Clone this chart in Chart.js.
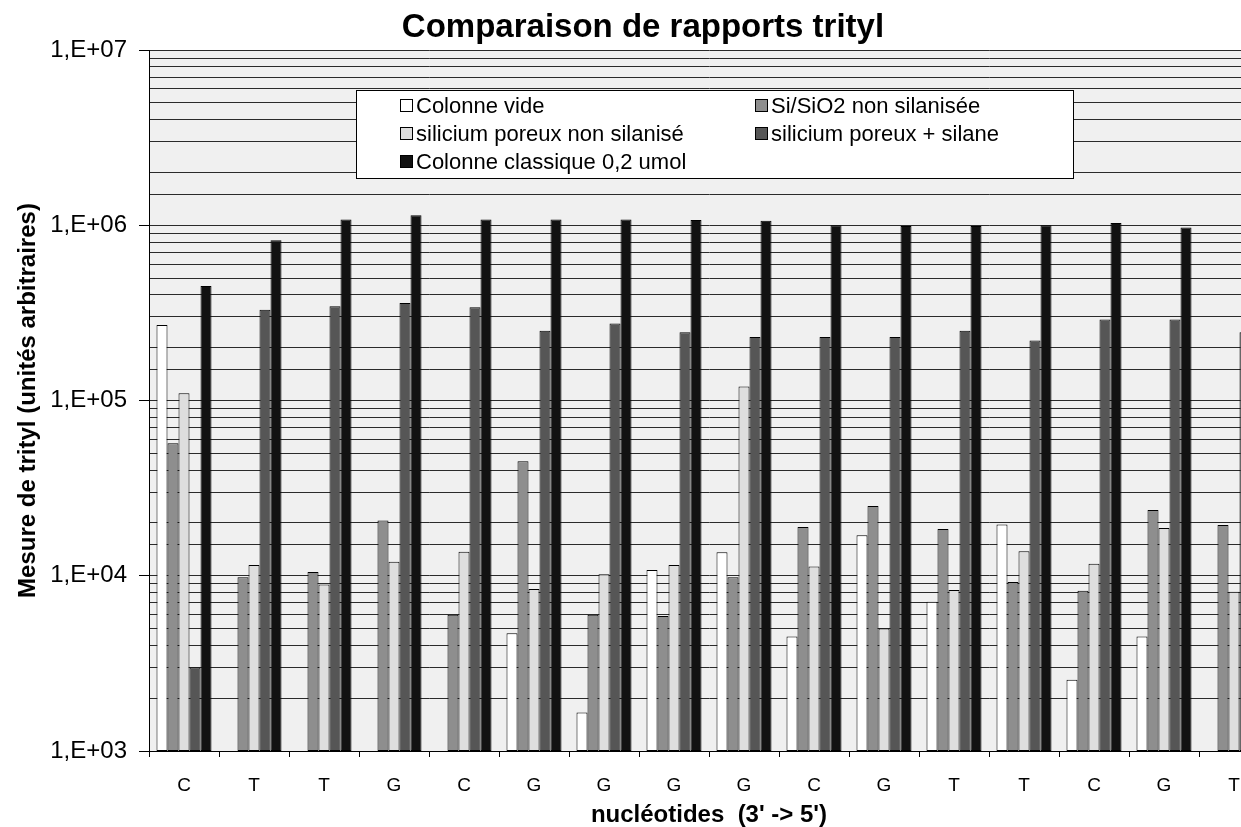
<!DOCTYPE html>
<html>
<head>
<meta charset="utf-8">
<script src="https://cdn.jsdelivr.net/npm/chart.js@4.4.1/dist/chart.umd.min.js"></script>
<style>
html, body { margin: 0; padding: 0; overflow: hidden; background: #ffffff; }
#wrap { width: 1286px; height: 830px; }
</style>
</head>
<body>
<div id="wrap"><canvas id="c" width="1286" height="830"></canvas></div>
<script>
// ---- data ----
const categories = ['C','T','T','G','C','G','G','G','G','C','G','T','T','C','G','T'];
const seriesLabels = [
  'Colonne vide',
  'Si/SiO2 non silanisée',
  'silicium poreux non silanisé',
  'silicium poreux + silane',
  'Colonne classique 0,2 umol'
];
const colonneVide    = [2.7e5, null, null, null, null, 4.7e3, 1.66e3, 1.08e4, 1.36e4, 4.5e3, 1.7e4, 7.1e3, 1.96e4, 2.55e3, 4.5e3, null];
const siSiO2         = [5.7e4, 9.8e3, 1.05e4, 2.07e4, 6.0e3, 4.5e4, 6.0e3, 5.9e3, 9.8e3, 1.9e4, 2.5e4, 1.85e4, 9.2e3, 8.2e3, 2.37e4, 1.95e4];
const poreuxNonSil   = [1.1e5, 1.15e4, 8.9e3, 1.2e4, 1.37e4, 8.4e3, 1.02e4, 1.15e4, 1.2e5, 1.13e4, 5.0e3, 8.3e3, 1.38e4, 1.17e4, 1.87e4, 8.1e3];
const poreuxSilane   = [3.0e3, 3.3e5, 3.45e5, 3.6e5, 3.4e5, 2.5e5, 2.75e5, 2.45e5, 2.3e5, 2.3e5, 2.3e5, 2.5e5, 2.2e5, 2.9e5, 2.9e5, 2.45e5];
const colonneClassique = [4.5e5, 8.2e5, 1.08e6, 1.14e6, 1.08e6, 1.08e6, 1.08e6, 1.07e6, 1.06e6, 1.0e6, 9.9e5, 9.9e5, 1.0e6, 1.03e6, 9.7e5, null];
const majorTickValues = [1e3, 1e4, 1e5, 1e6, 1e7];
const majorTickLabels = ['1,E+03', '1,E+04', '1,E+05', '1,E+06', '1,E+07'];

// ---- styles ----
const FONT = "'Liberation Sans', Arial, Helvetica, sans-serif";
const seriesColors = ['#ffffff', '#8e8e8e', '#dedede', '#565656', '#111111'];
const seriesData = [colonneVide, siSiO2, poreuxNonSil, poreuxSilane, colonneClassique];

function majorLabel(v) {
  for (let i = 0; i < majorTickValues.length; i++) {
    if (Math.abs(v - majorTickValues[i]) < majorTickValues[i] * 1e-6) return majorTickLabels[i];
  }
  return null;
}

const plotBg = {
  id: 'plotBg',
  beforeDraw(chart) {
    const a = chart.chartArea, ctx = chart.ctx;
    ctx.save();
    ctx.fillStyle = '#f0f0f0';
    ctx.fillRect(a.left, a.top, a.right - a.left, a.bottom - a.top);
    ctx.restore();
  }
};

const boxLegend = {
  id: 'boxLegend',
  afterDraw(chart) {
    const ctx = chart.ctx;
    const box = { x: 356.5, y: 90.5, w: 717, h: 88 };
    const colX = [400, 755];
    const rowY = [106, 134, 162];
    ctx.save();
    ctx.fillStyle = '#ffffff';
    ctx.fillRect(box.x, box.y, box.w, box.h);
    ctx.strokeStyle = '#000000';
    ctx.lineWidth = 1;
    ctx.strokeRect(box.x, box.y, box.w, box.h);
    ctx.font = '22px ' + FONT;
    ctx.textBaseline = 'middle';
    ctx.textAlign = 'left';
    chart.data.datasets.forEach((ds, i) => {
      const x = colX[i % 2];
      const y = rowY[Math.floor(i / 2)];
      ctx.fillStyle = ds.backgroundColor;
      ctx.fillRect(x + 0.5, y - 6.5, 12, 12);
      ctx.strokeStyle = '#000';
      ctx.strokeRect(x + 0.5, y - 6.5, 12, 12);
      ctx.fillStyle = '#000';
      ctx.fillText(ds.label, x + 16, y + 1);
    });
    ctx.restore();
  }
};

new Chart(document.getElementById('c'), {
  type: 'bar',
  data: {
    labels: categories,
    datasets: seriesLabels.map((lab, i) => ({
      label: lab,
      data: seriesData[i],
      backgroundColor: seriesColors[i],
      borderColor: '#000000',
      borderWidth: 1,
      borderSkipped: false
    }))
  },
  options: {
    responsive: false,
    animation: false,
    categoryPercentage: 0.786,
    barPercentage: 1.0,
    layout: { padding: { left: 17, right: 17, top: 0, bottom: 0 } },
    plugins: {
      legend: { display: false },
      tooltip: { enabled: false },
      title: {
        display: true,
        text: 'Comparaison de rapports trityl',
        color: '#000',
        font: { family: FONT, size: 33, weight: 'bold', lineHeight: 1.2 },
        padding: { top: 8, bottom: 2.4 }
      }
    },
    scales: {
      x: {
        type: 'category',
        offset: true,
        grid: {
          display: true,
          offset: true,
          drawOnChartArea: false,
          drawTicks: true,
          tickLength: 6,
          color: '#000',
          tickColor: '#000'
        },
        border: { display: true, color: '#000', width: 1 },
        ticks: {
          color: '#000',
          font: { family: FONT, size: 19 },
          padding: 17,
          maxRotation: 0,
          autoSkip: false
        },
        title: {
          display: true,
          text: "nucléotides  (3' -> 5')",
          color: '#000',
          font: { family: FONT, size: 24, weight: 'bold', lineHeight: 1.2 },
          padding: { top: 0, bottom: 0 }
        },
        afterFit(scale) { scale.height = 79; }
      },
      y: {
        type: 'logarithmic',
        min: 1000,
        max: 1e7,
        grid: {
          display: true,
          drawOnChartArea: true,
          drawTicks: true,
          tickLength: 10,
          color: '#2a2a2a',
          lineWidth: 1,
          tickColor: (ctx) => (ctx.tick && majorLabel(ctx.tick.value) ? '#000' : 'rgba(0,0,0,0)')
        },
        border: { display: true, color: '#000', width: 1 },
        ticks: {
          color: '#000',
          font: { family: FONT, size: 24 },
          padding: 12,
          autoSkip: false,
          callback: (v) => majorLabel(v) || ''
        },
        title: {
          display: true,
          text: 'Mesure de trityl (unités arbitraires)',
          color: '#000',
          font: { family: FONT, size: 24, weight: 'bold', lineHeight: 1.2 },
          padding: { top: -3.4, bottom: 0 }
        },
        afterFit(scale) { scale.width = 132; }
      }
    }
  },
  plugins: [plotBg, boxLegend]
});
</script>
</body>
</html>
